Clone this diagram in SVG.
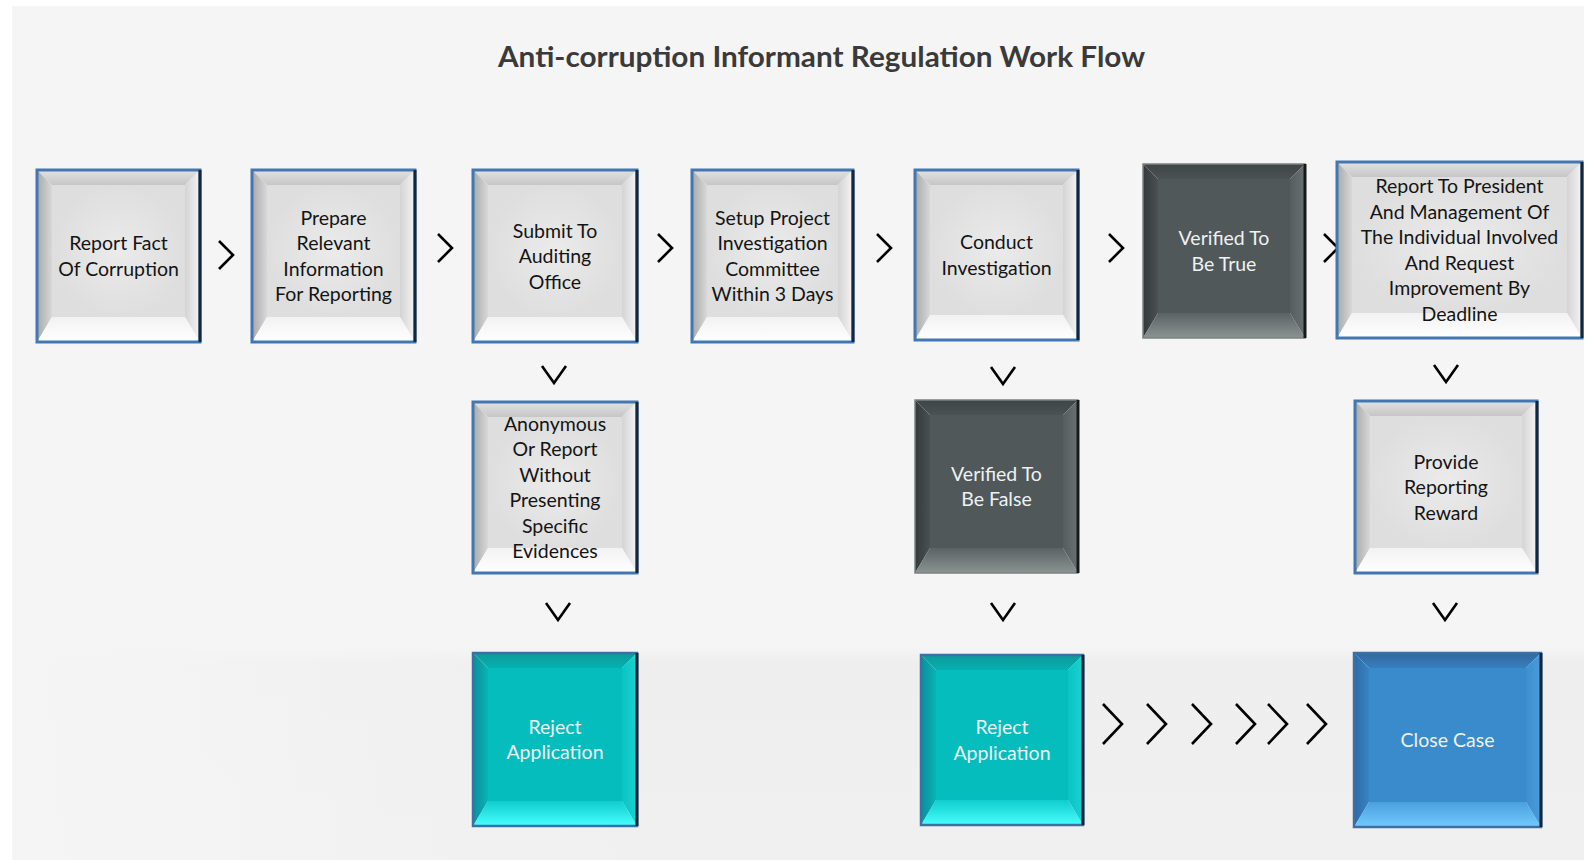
<svg xmlns="http://www.w3.org/2000/svg" width="1595" height="860" viewBox="0 0 1595 860">
<defs>
<linearGradient id="gBand" x1="0" y1="0" x2="0" y2="1"><stop offset="0" stop-color="#f5f5f5"/><stop offset="0.08" stop-color="#eeeeee"/><stop offset="1" stop-color="#f0f0f0"/></linearGradient>
<linearGradient id="gBandFade" x1="0" y1="0" x2="1" y2="0"><stop offset="0" stop-color="#f5f5f5" stop-opacity="1"/><stop offset="0.4" stop-color="#f5f5f5" stop-opacity="0"/></linearGradient>
<linearGradient id="gLT" x1="0" y1="0" x2="0" y2="1"><stop offset="0" stop-color="#e2e2e2"/><stop offset="1" stop-color="#c6c6c6"/></linearGradient>
<linearGradient id="gLL" x1="0" y1="0" x2="1" y2="0"><stop offset="0" stop-color="#a9a9a9"/><stop offset="1" stop-color="#d8d8d8"/></linearGradient>
<linearGradient id="gLR" x1="1" y1="0" x2="0" y2="0"><stop offset="0" stop-color="#f4f4f4"/><stop offset="1" stop-color="#d4d4d4"/></linearGradient>
<linearGradient id="gLB" x1="0" y1="1" x2="0" y2="0"><stop offset="0" stop-color="#ffffff"/><stop offset="1" stop-color="#f2f2f2"/></linearGradient>
<radialGradient id="gLF"><stop offset="0" stop-color="#ebebeb"/><stop offset="1" stop-color="#dedede"/></radialGradient>
<linearGradient id="gDT" x1="0" y1="0" x2="0" y2="1"><stop offset="0" stop-color="#3f4546"/><stop offset="1" stop-color="#4b5253"/></linearGradient>
<linearGradient id="gDL" x1="0" y1="0" x2="1" y2="0"><stop offset="0" stop-color="#343a3b"/><stop offset="1" stop-color="#4b5152"/></linearGradient>
<linearGradient id="gDR" x1="1" y1="0" x2="0" y2="0"><stop offset="0" stop-color="#6a7172"/><stop offset="1" stop-color="#565d5e"/></linearGradient>
<linearGradient id="gDB" x1="0" y1="1" x2="0" y2="0"><stop offset="0" stop-color="#8c9393"/><stop offset="1" stop-color="#5b6263"/></linearGradient>
<linearGradient id="gTT" x1="0" y1="0" x2="0" y2="1"><stop offset="0" stop-color="#0b9a9b"/><stop offset="1" stop-color="#07b0b0"/></linearGradient>
<linearGradient id="gTL" x1="0" y1="0" x2="1" y2="0"><stop offset="0" stop-color="#0a8f9c"/><stop offset="1" stop-color="#08b4b4"/></linearGradient>
<linearGradient id="gTR" x1="1" y1="0" x2="0" y2="0"><stop offset="0" stop-color="#1ad2d2"/><stop offset="1" stop-color="#0cc3c3"/></linearGradient>
<linearGradient id="gTB" x1="0" y1="1" x2="0" y2="0"><stop offset="0" stop-color="#48ffff"/><stop offset="1" stop-color="#10cccc"/></linearGradient>
<linearGradient id="gBT" x1="0" y1="0" x2="0" y2="1"><stop offset="0" stop-color="#3168a0"/><stop offset="1" stop-color="#387fbd"/></linearGradient>
<linearGradient id="gBL" x1="0" y1="0" x2="1" y2="0"><stop offset="0" stop-color="#2d6ba6"/><stop offset="1" stop-color="#3784c2"/></linearGradient>
<linearGradient id="gBR" x1="1" y1="0" x2="0" y2="0"><stop offset="0" stop-color="#4a9cdc"/><stop offset="1" stop-color="#3d8ecc"/></linearGradient>
<linearGradient id="gBB" x1="0" y1="1" x2="0" y2="0"><stop offset="0" stop-color="#72caff"/><stop offset="1" stop-color="#4aa0dd"/></linearGradient>
</defs>
<style>
.lt{fill:url(#gLT)} .ll{fill:url(#gLL)} .lr{fill:url(#gLR)} .lb{fill:url(#gLB)} .lf{fill:url(#gLF)}
.dt{fill:url(#gDT)} .dl{fill:url(#gDL)} .dr{fill:url(#gDR)} .db{fill:url(#gDB)} .df{fill:#50585a}
.tt{fill:url(#gTT)} .tl{fill:url(#gTL)} .tr{fill:url(#gTR)} .tb{fill:url(#gTB)} .tf{fill:#05bdbd}
.bt{fill:url(#gBT)} .bl{fill:url(#gBL)} .br{fill:url(#gBR)} .bb{fill:url(#gBB)} .bf{fill:#3a8bcb}
.brd{fill:none;stroke:#4178b4;stroke-width:3}
.brdd{fill:none;stroke:#7b8282;stroke-width:1.5}
.brdt{fill:none;stroke:#3d6fa3;stroke-width:2.5}
.edge{stroke:#13263a;stroke-width:3}
.edged{stroke:#151a1b;stroke-width:3}
.txt{font-family:Lato,"Open Sans",sans-serif;font-size:19.5px;text-anchor:middle;fill:#141414}
.wt{fill:#eef2f2}
.title{font-family:Lato,"Open Sans",sans-serif;font-size:28px;font-weight:bold;fill:#3a3a3a;text-anchor:middle}
.chev{fill:none;stroke:#000;stroke-width:2.6;stroke-linejoin:miter}
</style>
<rect width="1595" height="860" fill="#ffffff"/>
<rect x="12" y="6" width="1572" height="854" fill="#f5f5f5"/>
<rect x="12" y="646" width="1572" height="214" fill="url(#gBand)"/>
<rect x="12" y="646" width="1572" height="214" fill="url(#gBandFade)"/>
<text class="title" x="821.5" y="67" textLength="647" lengthAdjust="spacingAndGlyphs">Anti-corruption Informant Regulation Work Flow</text>

<g id="connectors">
<polyline class="chev" points="219,241 233,255 219,269"/>
<polyline class="chev" points="438,234 452,248 438,262"/>
<polyline class="chev" points="658,234 672,248 658,262"/>
<polyline class="chev" points="877,234 891,248 877,262"/>
<polyline class="chev" points="1109,234 1123,248 1109,262"/>
<polyline class="chev" points="1324,234 1338,248 1324,262"/>
<polyline class="chev" points="542,366 554,383 566,366"/>
<polyline class="chev" points="991,367 1003,384 1015,367"/>
<polyline class="chev" points="1434,365 1446,382 1458,365"/>
<polyline class="chev" points="546,603 558,620 570,603"/>
<polyline class="chev" points="991,603 1003,620 1015,603"/>
<polyline class="chev" points="1433,603 1445,620 1457,603"/>
<polyline class="chev" points="1103,704 1122,724 1103,744"/>
<polyline class="chev" points="1147,704 1166,724 1147,744"/>
<polyline class="chev" points="1192,704 1211,724 1192,744"/>
<polyline class="chev" points="1236,704 1255,724 1236,744"/>
<polyline class="chev" points="1268,704 1287,724 1268,744"/>
<polyline class="chev" points="1307,704 1326,724 1307,744"/>
</g>

<g id="n1" transform="translate(37,170)">
<polygon class="lt" points="0,0 163,0 148,15 15,15"/><polygon class="ll" points="0,0 15,15 15,147 0,172"/><polygon class="lr" points="163,0 163,172 148,147 148,15"/><polygon class="lb" points="0,172 15,147 148,147 163,172"/><rect class="lf" x="15" y="15" width="133" height="132"/>
<rect class="brd" width="163" height="172"/><line class="edge" x1="163" y1="0" x2="163" y2="172"/>
<text class="txt" y="80.25"><tspan x="81.5">Report Fact</tspan><tspan x="81.5" dy="25.5">Of Corruption</tspan></text>
</g>
<g id="n2" transform="translate(252,170)">
<polygon class="lt" points="0,0 163,0 148,15 15,15"/><polygon class="ll" points="0,0 15,15 15,147 0,172"/><polygon class="lr" points="163,0 163,172 148,147 148,15"/><polygon class="lb" points="0,172 15,147 148,147 163,172"/><rect class="lf" x="15" y="15" width="133" height="132"/>
<rect class="brd" width="163" height="172"/><line class="edge" x1="163" y1="0" x2="163" y2="172"/>
<text class="txt" y="54.75"><tspan x="81.5">Prepare</tspan><tspan x="81.5" dy="25.5">Relevant</tspan><tspan x="81.5" dy="25.5">Information</tspan><tspan x="81.5" dy="25.5">For Reporting</tspan></text>
</g>
<g id="n3" transform="translate(473,170)">
<polygon class="lt" points="0,0 164,0 149,15 15,15"/><polygon class="ll" points="0,0 15,15 15,147 0,172"/><polygon class="lr" points="164,0 164,172 149,147 149,15"/><polygon class="lb" points="0,172 15,147 149,147 164,172"/><rect class="lf" x="15" y="15" width="134" height="132"/>
<rect class="brd" width="164" height="172"/><line class="edge" x1="164" y1="0" x2="164" y2="172"/>
<text class="txt" y="67.5"><tspan x="82">Submit To</tspan><tspan x="82" dy="25.5">Auditing</tspan><tspan x="82" dy="25.5">Office</tspan></text>
</g>
<g id="n4" transform="translate(692,170)">
<polygon class="lt" points="0,0 161,0 146,15 15,15"/><polygon class="ll" points="0,0 15,15 15,147 0,172"/><polygon class="lr" points="161,0 161,172 146,147 146,15"/><polygon class="lb" points="0,172 15,147 146,147 161,172"/><rect class="lf" x="15" y="15" width="131" height="132"/>
<rect class="brd" width="161" height="172"/><line class="edge" x1="161" y1="0" x2="161" y2="172"/>
<text class="txt" y="54.75"><tspan x="80.5">Setup Project</tspan><tspan x="80.5" dy="25.5">Investigation</tspan><tspan x="80.5" dy="25.5">Committee</tspan><tspan x="80.5" dy="25.5">Within 3 Days</tspan></text>
</g>
<g id="n5" transform="translate(915,170)">
<polygon class="lt" points="0,0 163,0 148,15 15,15"/><polygon class="ll" points="0,0 15,15 15,145 0,170"/><polygon class="lr" points="163,0 163,170 148,145 148,15"/><polygon class="lb" points="0,170 15,145 148,145 163,170"/><rect class="lf" x="15" y="15" width="133" height="130"/>
<rect class="brd" width="163" height="170"/><line class="edge" x1="163" y1="0" x2="163" y2="170"/>
<text class="txt" y="79.25"><tspan x="81.5">Conduct</tspan><tspan x="81.5" dy="25.5">Investigation</tspan></text>
</g>
<g id="n6" transform="translate(1143,164)">
<polygon class="dt" points="0,0 162,0 147,15 15,15"/><polygon class="dl" points="0,0 15,15 15,149 0,174"/><polygon class="dr" points="162,0 162,174 147,149 147,15"/><polygon class="db" points="0,174 15,149 147,149 162,174"/><rect class="df" x="15" y="15" width="132" height="134"/>
<rect class="brdd" width="162" height="174"/><line class="edged" x1="162" y1="0" x2="162" y2="174"/>
<text class="txt wt" y="81.25"><tspan x="81">Verified To</tspan><tspan x="81" dy="25.5">Be True</tspan></text>
</g>
<g id="n7" transform="translate(1337,162)">
<polygon class="lt" points="0,0 245,0 230,15 15,15"/><polygon class="ll" points="0,0 15,15 15,151 0,176"/><polygon class="lr" points="245,0 245,176 230,151 230,15"/><polygon class="lb" points="0,176 15,151 230,151 245,176"/><rect class="lf" x="15" y="15" width="215" height="136"/>
<rect class="brd" width="245" height="176"/><line class="edge" x1="245" y1="0" x2="245" y2="176"/>
<text class="txt" y="31.25"><tspan x="122.5">Report To President</tspan><tspan x="122.5" dy="25.5">And Management Of</tspan><tspan x="122.5" dy="25.5">The Individual Involved</tspan><tspan x="122.5" dy="25.5">And Request</tspan><tspan x="122.5" dy="25.5">Improvement By</tspan><tspan x="122.5" dy="25.5">Deadline</tspan></text>
</g>
<g id="n8" transform="translate(473,402)">
<polygon class="lt" points="0,0 164,0 149,15 15,15"/><polygon class="ll" points="0,0 15,15 15,146 0,171"/><polygon class="lr" points="164,0 164,171 149,146 149,15"/><polygon class="lb" points="0,171 15,146 149,146 164,171"/><rect class="lf" x="15" y="15" width="134" height="131"/>
<rect class="brd" width="164" height="171"/><line class="edge" x1="164" y1="0" x2="164" y2="171"/>
<text class="txt" y="28.75"><tspan x="82">Anonymous</tspan><tspan x="82" dy="25.5">Or Report</tspan><tspan x="82" dy="25.5">Without</tspan><tspan x="82" dy="25.5">Presenting</tspan><tspan x="82" dy="25.5">Specific</tspan><tspan x="82" dy="25.5">Evidences</tspan></text>
</g>
<g id="n9" transform="translate(915,400)">
<polygon class="dt" points="0,0 163,0 148,15 15,15"/><polygon class="dl" points="0,0 15,15 15,148 0,173"/><polygon class="dr" points="163,0 163,173 148,148 148,15"/><polygon class="db" points="0,173 15,148 148,148 163,173"/><rect class="df" x="15" y="15" width="133" height="133"/>
<rect class="brdd" width="163" height="173"/><line class="edged" x1="163" y1="0" x2="163" y2="173"/>
<text class="txt wt" y="80.75"><tspan x="81.5">Verified To</tspan><tspan x="81.5" dy="25.5">Be False</tspan></text>
</g>
<g id="n10" transform="translate(1355,401)">
<polygon class="lt" points="0,0 182,0 167,15 15,15"/><polygon class="ll" points="0,0 15,15 15,147 0,172"/><polygon class="lr" points="182,0 182,172 167,147 167,15"/><polygon class="lb" points="0,172 15,147 167,147 182,172"/><rect class="lf" x="15" y="15" width="152" height="132"/>
<rect class="brd" width="182" height="172"/><line class="edge" x1="182" y1="0" x2="182" y2="172"/>
<text class="txt" y="67.5"><tspan x="91">Provide</tspan><tspan x="91" dy="25.5">Reporting</tspan><tspan x="91" dy="25.5">Reward</tspan></text>
</g>
<g id="n11" transform="translate(473,653)">
<polygon class="tt" points="0,0 164,0 149,15 15,15"/><polygon class="tl" points="0,0 15,15 15,148 0,173"/><polygon class="tr" points="164,0 164,173 149,148 149,15"/><polygon class="tb" points="0,173 15,148 149,148 164,173"/><rect class="tf" x="15" y="15" width="134" height="133"/>
<rect class="brdt" width="164" height="173"/><line class="edge" x1="164" y1="0" x2="164" y2="173"/>
<text class="txt wt" y="80.75"><tspan x="82">Reject</tspan><tspan x="82" dy="25.5">Application</tspan></text>
</g>
<g id="n12" transform="translate(921,655)">
<polygon class="tt" points="0,0 162,0 147,15 15,15"/><polygon class="tl" points="0,0 15,15 15,145 0,170"/><polygon class="tr" points="162,0 162,170 147,145 147,15"/><polygon class="tb" points="0,170 15,145 147,145 162,170"/><rect class="tf" x="15" y="15" width="132" height="130"/>
<rect class="brdt" width="162" height="170"/><line class="edge" x1="162" y1="0" x2="162" y2="170"/>
<text class="txt wt" y="79.25"><tspan x="81">Reject</tspan><tspan x="81" dy="25.5">Application</tspan></text>
</g>
<g id="n13" transform="translate(1354,653)">
<polygon class="bt" points="0,0 187,0 172,15 15,15"/><polygon class="bl" points="0,0 15,15 15,149 0,174"/><polygon class="br" points="187,0 187,174 172,149 172,15"/><polygon class="bb" points="0,174 15,149 172,149 187,174"/><rect class="bf" x="15" y="15" width="157" height="134"/>
<rect class="brdt" width="187" height="174"/><line class="edge" x1="187" y1="0" x2="187" y2="174"/>
<text class="txt wt" x="93.5" y="94">Close Case</text>
</g>
</svg>
